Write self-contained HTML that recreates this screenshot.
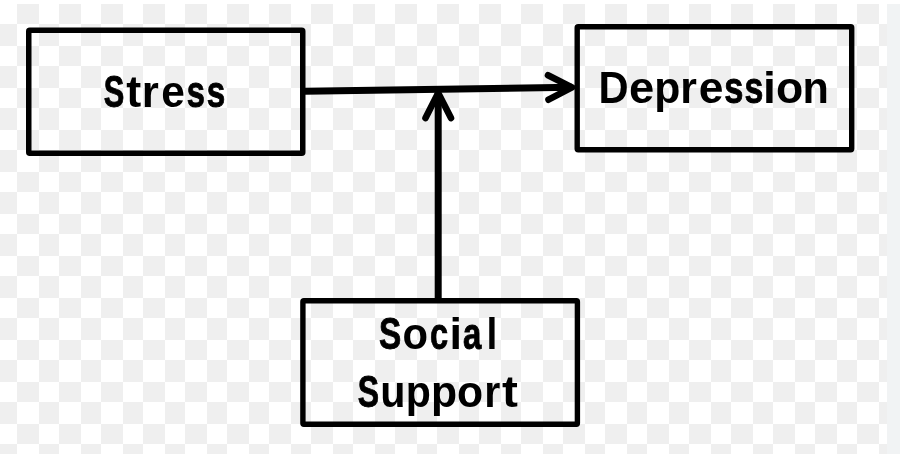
<!DOCTYPE html>
<html><head><meta charset="utf-8">
<style>
html,body{margin:0;padding:0;background:#fff;}
body{width:900px;height:456px;overflow:hidden;position:relative;}
svg{position:absolute;left:0;top:0;will-change:transform;}
text{font-family:"Liberation Sans",sans-serif;font-weight:bold;fill:#000;}
</style></head>
<body>
<svg width="900" height="456" viewBox="0 0 900 456">
<defs>
<pattern id="chk" x="17" y="4" width="42" height="42" patternUnits="userSpaceOnUse">
<rect x="0" y="0" width="22" height="20" fill="#efefef"/>
<rect x="22" y="20" width="20" height="22" fill="#efefef"/>
</pattern>
</defs>
<rect x="0" y="0" width="900" height="456" fill="#fff"/>
<rect x="0" y="4" width="887" height="450" fill="url(#chk)"/>
<rect x="887" y="4" width="13" height="450" fill="#f1f3f4"/>

<g>
<g fill="none" stroke="#000" stroke-linejoin="round">
<rect x="28.75" y="30.3" width="274" height="123" rx="1" stroke-width="5.5"/>
<rect x="577.2" y="26.7" width="274.5" height="123.1" rx="1" stroke-width="5.4"/>
<rect x="302.9" y="300.8" width="274.5" height="123.5" rx="1" stroke-width="5.4"/>
</g>
<g fill="none" stroke="#000" stroke-width="7" stroke-linecap="round" stroke-linejoin="round">
<line x1="305" y1="91.3" x2="572" y2="87.2" stroke-linecap="butt"/>
<polyline points="548,75.2 572,87.4 548.5,99.7" stroke-width="6.6"/>
<line x1="438.2" y1="298" x2="438.2" y2="93" stroke-linecap="butt"/>
<polyline points="425.5,118 438.2,93 451,118" stroke-width="6.6"/>
</g>
<g font-size="44">
<text transform="translate(0,107.10) scale(1,1.0261)"><tspan x="103.64" textLength="20.55" lengthAdjust="spacingAndGlyphs" stroke="#000" stroke-width="0.90">S</tspan><tspan x="126.26" textLength="14.96" lengthAdjust="spacingAndGlyphs">t</tspan><tspan x="141.88" textLength="17.09" lengthAdjust="spacingAndGlyphs">r</tspan><tspan x="161.31" textLength="23.62" lengthAdjust="spacingAndGlyphs">e</tspan><tspan x="186.81" textLength="18.16" lengthAdjust="spacingAndGlyphs" stroke="#000" stroke-width="0.90">s</tspan><tspan x="206.76" textLength="18.49" lengthAdjust="spacingAndGlyphs" stroke="#000" stroke-width="0.90">s</tspan></text>
<text transform="translate(0,103.35) scale(1,0.9960)"><tspan x="598.39" textLength="30.12" lengthAdjust="spacingAndGlyphs">D</tspan><tspan x="629.06" textLength="25.21" lengthAdjust="spacingAndGlyphs">e</tspan><tspan x="654.28" textLength="26.10" lengthAdjust="spacingAndGlyphs">p</tspan><tspan x="680.17" textLength="16.63" lengthAdjust="spacingAndGlyphs">r</tspan><tspan x="698.67" textLength="24.68" lengthAdjust="spacingAndGlyphs">e</tspan><tspan x="724.17" textLength="19.16" lengthAdjust="spacingAndGlyphs" stroke="#000" stroke-width="0.90">s</tspan><tspan x="744.54" textLength="18.85" lengthAdjust="spacingAndGlyphs" stroke="#000" stroke-width="0.90">s</tspan><tspan x="763.13" textLength="12.86" lengthAdjust="spacingAndGlyphs">i</tspan><tspan x="776.08" textLength="27.26" lengthAdjust="spacingAndGlyphs">o</tspan><tspan x="802.40" textLength="26.37" lengthAdjust="spacingAndGlyphs">n</tspan></text>
<text transform="translate(0,348.70) scale(1,0.9885)"><tspan x="378.98" textLength="22.23" lengthAdjust="spacingAndGlyphs" stroke="#000" stroke-width="0.90">S</tspan><tspan x="402.57" textLength="25.53" lengthAdjust="spacingAndGlyphs">o</tspan><tspan x="429.95" textLength="18.10" lengthAdjust="spacingAndGlyphs" stroke="#000" stroke-width="0.90">c</tspan><tspan x="449.51" textLength="12.51" lengthAdjust="spacingAndGlyphs">i</tspan><tspan x="462.97" textLength="18.32" lengthAdjust="spacingAndGlyphs" stroke="#000" stroke-width="0.90">a</tspan><tspan x="486.62" textLength="10.85" lengthAdjust="spacingAndGlyphs">l</tspan></text>
<text transform="translate(0,406.70) scale(1,0.9885)"><tspan x="357.67" textLength="21.31" lengthAdjust="spacingAndGlyphs" stroke="#000" stroke-width="0.90">S</tspan><tspan x="380.36" textLength="25.23" lengthAdjust="spacingAndGlyphs">u</tspan><tspan x="405.70" textLength="25.12" lengthAdjust="spacingAndGlyphs">p</tspan><tspan x="430.92" textLength="26.09" lengthAdjust="spacingAndGlyphs">p</tspan><tspan x="456.94" textLength="26.08" lengthAdjust="spacingAndGlyphs">o</tspan><tspan x="484.24" textLength="16.06" lengthAdjust="spacingAndGlyphs">r</tspan><tspan x="502.00" textLength="15.92" lengthAdjust="spacingAndGlyphs">t</tspan></text>
</g>
</g>
</svg>
</body></html>
